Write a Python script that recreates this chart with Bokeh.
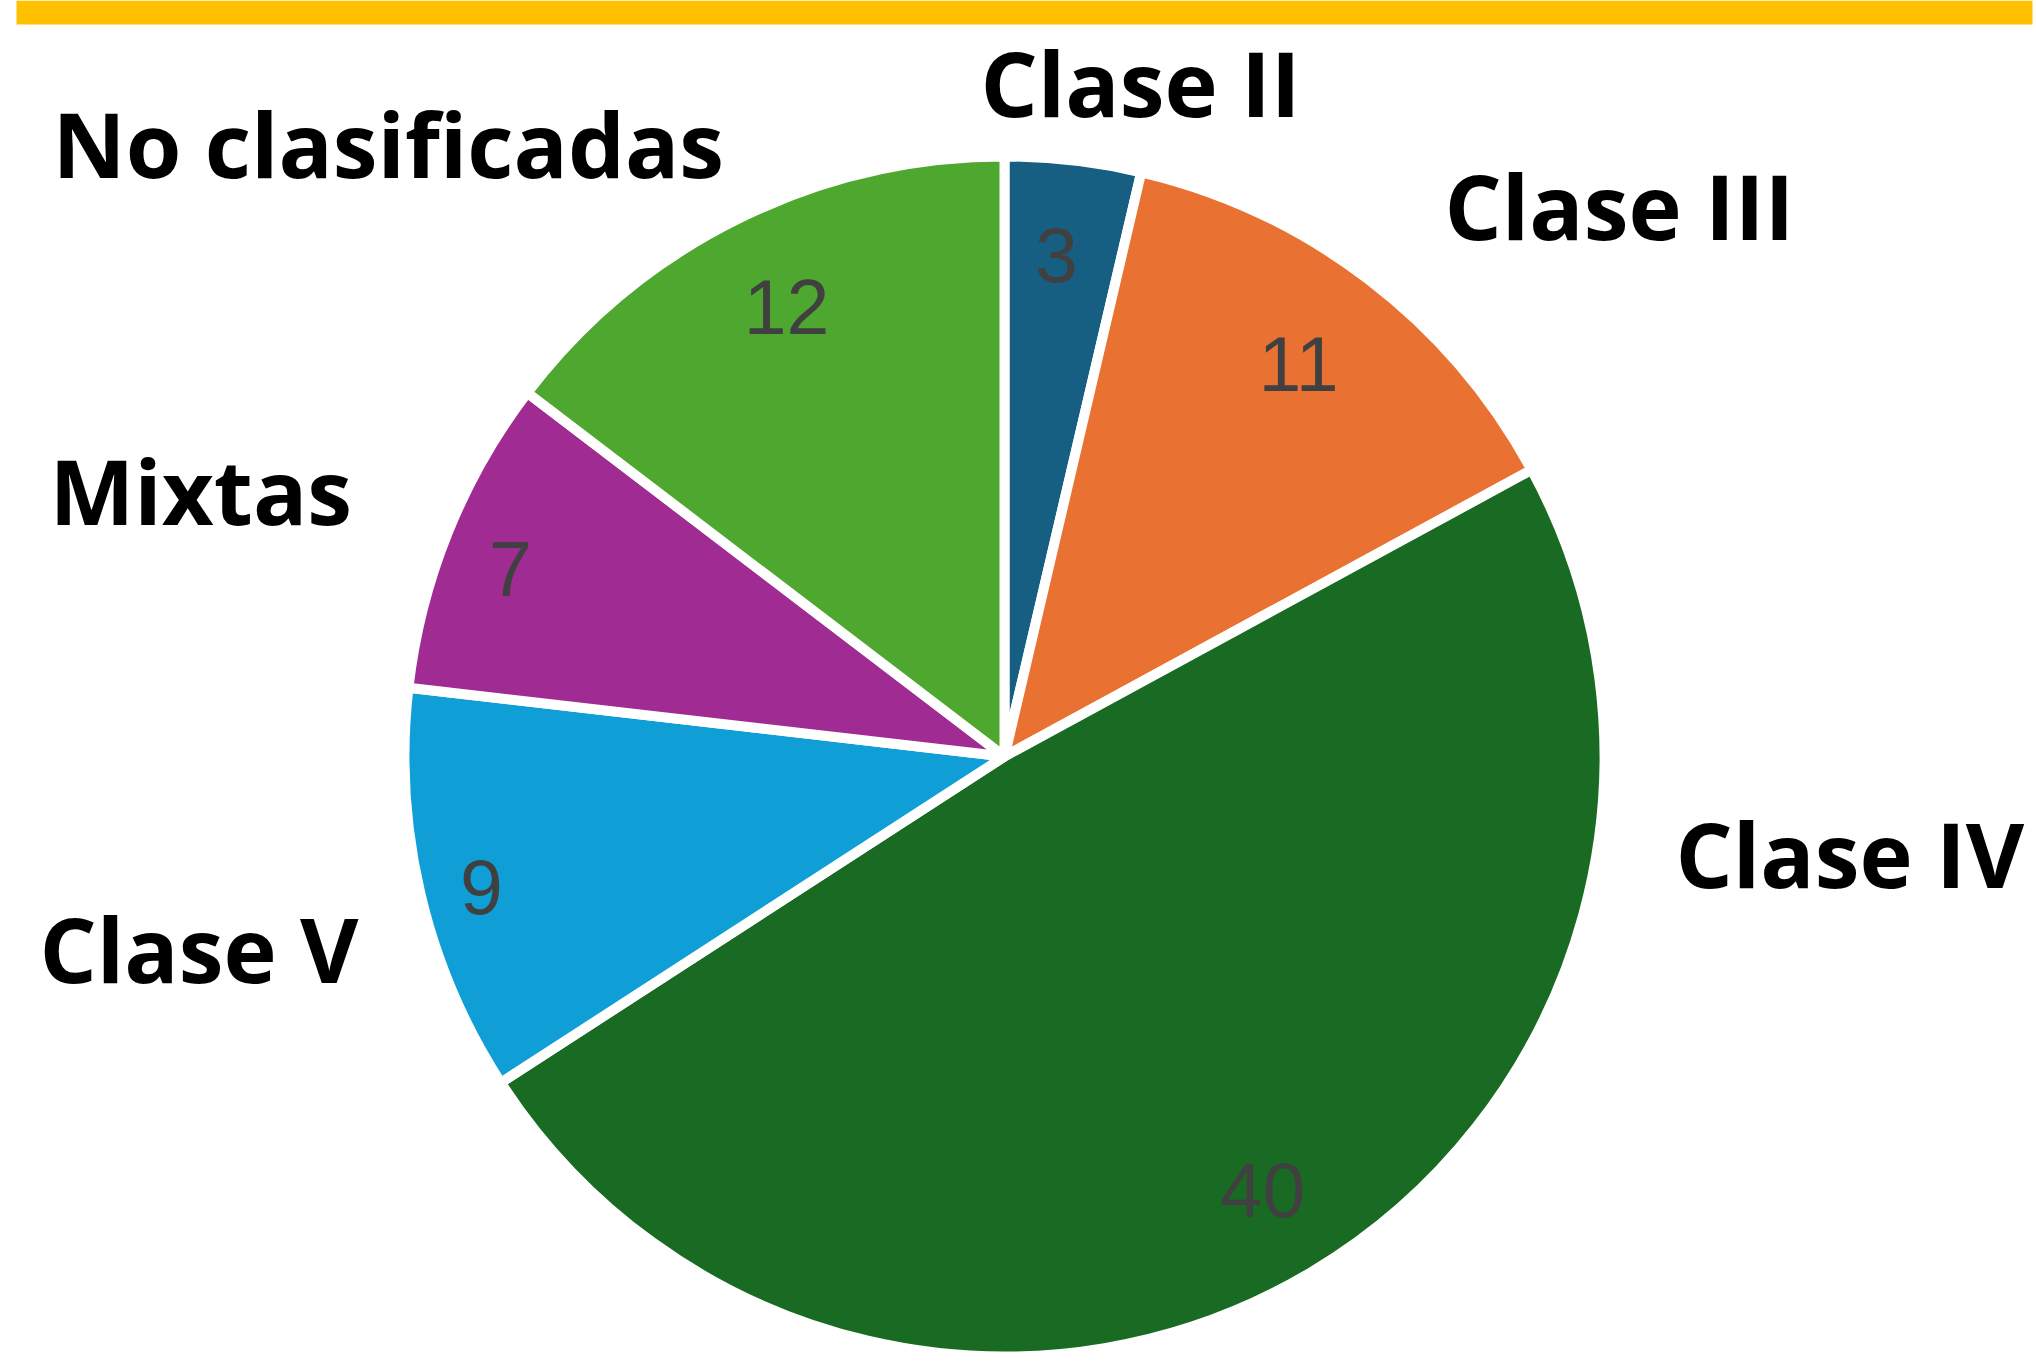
import math
from bokeh.plotting import figure
from bokeh.models import ColumnDataSource, Range1d
from bokeh.core.properties import value
from bokeh.embed import file_html
from bokeh.resources import INLINE

categories = ["Clase II", "Clase III", "Clase IV", "Clase V", "Mixtas", "No clasificadas"]
counts = [3, 11, 40, 9, 7, 12]
colors = ["#175F82", "#E97132", "#196B24", "#0F9ED5", "#A02B93", "#4EA72E"]

W, H = 2036, 1361
p = figure(width=W, height=H, output_backend="svg", toolbar_location=None,
           x_range=Range1d(0, W), y_range=Range1d(0, H), min_border=0)
p.axis.visible = False
p.grid.visible = False
p.outline_line_color = None
p.background_fill_color = "white"
p.border_fill_color = "white"

# yellow top bar
p.quad(left=[16], right=[2032], top=[H], bottom=[H - 24], color="#FFC000", line_color=None)

cx, cy, r = 1004, H - 756, 600
tot = sum(counts)
cum = [0]
for c in counts:
    cum.append(cum[-1] + c)
starts = [math.pi / 2 - 2 * math.pi * cum[i + 1] / tot for i in range(len(counts))]
ends = [math.pi / 2 - 2 * math.pi * cum[i] / tot for i in range(len(counts))]
src = ColumnDataSource(dict(start=starts, end=ends, color=colors, cat=categories, n=counts))
p.wedge(x=cx, y=cy, radius=r, start_angle="start", end_angle="end", fill_color="color",
        line_color="white", line_width=10, source=src)

# value labels (positions)
val_pos = [(1056, 254), (1298, 363), (1262, 1189), (481, 886), (510, 568), (786, 306)]
p.text(x=[q[0] for q in val_pos], y=[H - q[1] for q in val_pos], text=[str(c) for c in counts],
       text_font=value("Liberation Sans"), text_font_size="77px", text_color="#404040",
       text_align="center", text_baseline="alphabetic")

# category labels (left, baseline)
cat_pos = [(980, 81), (1444, 204), (1675, 852), (39, 947), (49, 489), (52, 142)]
p.text(x=[q[0] for q in cat_pos], y=[H - q[1] for q in cat_pos], text=categories,
       text_font=value("Open Sans"), text_font_style="bold", text_font_size="90px",
       text_color="black", text_align="left", text_baseline="alphabetic")

open("out.html", "w").write(file_html(p, INLINE))
